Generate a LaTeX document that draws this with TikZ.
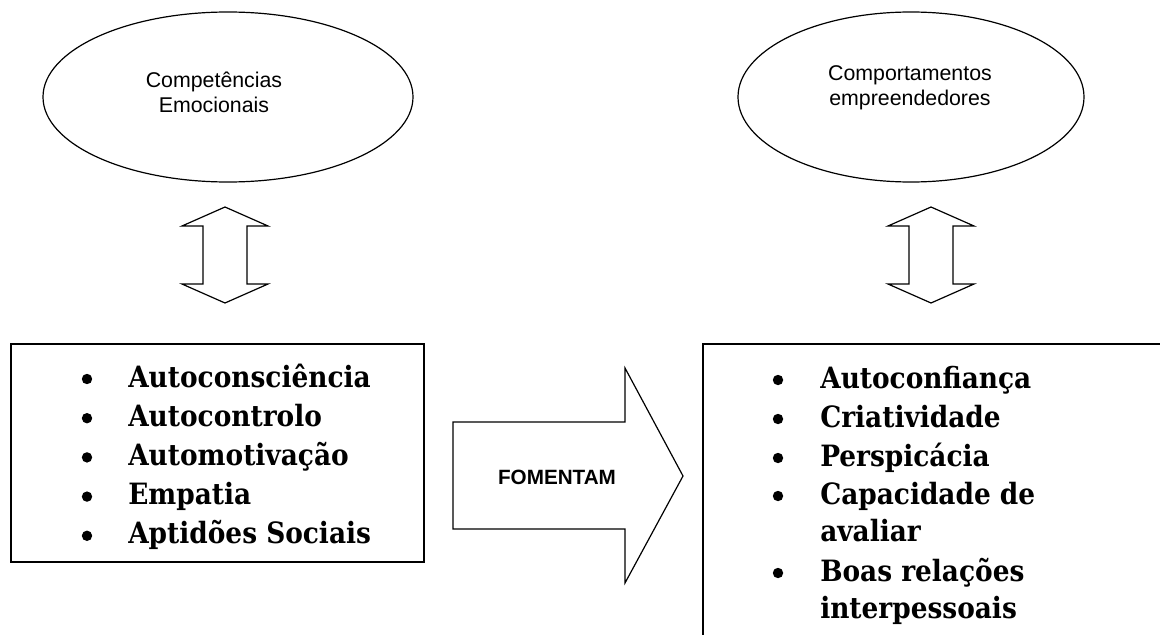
\documentclass[tikz,border=0pt]{standalone}
\usepackage{fontspec}
\setmainfont{Liberation Sans}
\newfontfamily\itemfont{DejaVu Serif Condensed}
\tikzset{
    lbl/.style={font=\fontsize{16}{19}\selectfont, inner sep=0pt, anchor=base},
    item/.style={font=\itemfont\bfseries\fontsize{22}{26}\selectfont, inner sep=0pt, anchor=base west},
    frame/.style={line width=1.1pt},
    block/.style={draw, line width=0.9pt, line join=miter},
}
\begin{document}
\begin{tikzpicture}[x=0.75pt, y=-0.75pt]
        \useasboundingbox (0,0) rectangle (1160,635);

        \draw[line width=0.9pt] (228,97) ellipse [x radius=185, y radius=85];
        \node[lbl] (emoA) at (214,88) {Competências};
        \node[lbl] (emoB) at (214,113) {Emocionais};

        \draw[line width=0.9pt] (911,97) ellipse [x radius=173, y radius=85];
        \node[lbl] (empA) at (910,81) {Comportamentos};
        \node[lbl] (empB) at (910,106) {empreendedores};

        \foreach \cx in {225, 931} {
            \draw[block] (\cx,207) -- ({\cx+43},226) -- ({\cx+22},226) -- ({\cx+22},284)
                -- ({\cx+43},284) -- (\cx,303) -- ({\cx-43},284) -- ({\cx-22},284)
                -- ({\cx-22},226) -- ({\cx-43},226) -- cycle;
        }

        \draw[frame] (11,344) rectangle (424,562);
        \foreach \t [count=\i] in {Autoconsciência, Autocontrolo, Automotivação, Empatia, Aptidões Sociais} {
            \fill ({87},{379+39.2*(\i-1)}) circle (3.9pt);
            \node[item] (comp\i) at (128,{387+39.2*(\i-1)}) {\t};
        }

        \draw[block] (453,422) -- (625,422) -- (625,368) -- (683,476) -- (625,583) -- (625,529) -- (453,529) -- cycle;
        \node[font=\bfseries\fontsize{15.5}{18}\selectfont, inner sep=0pt] (fom) at (557,477) {FOMENTAM};

        \draw[frame] (1160,344) -- (703,344) -- (703,635);
        \foreach \t/\yy/\b [count=\i] in {Autoconfiança/388/1, Criatividade/427/1, Perspicácia/466/1,
                Capacidade de/504/1, avaliar/541/0, Boas relações/581/1, interpessoais/618/0} {
            \ifnum\b=1 \fill (778,{\yy-8}) circle (3.9pt); \fi
            \node[item] (beh\i) at (820,\yy) {\t};
        }
\end{tikzpicture}
\end{document}
